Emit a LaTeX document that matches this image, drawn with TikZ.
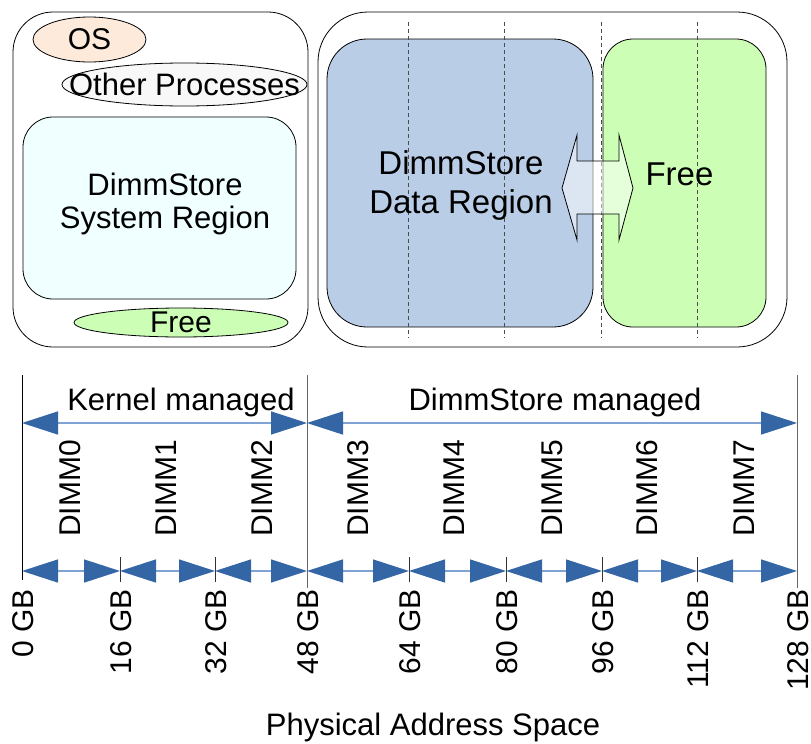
\documentclass[tikz,border=0pt]{standalone}
\usepackage{fontspec}
\setmainfont{Liberation Sans}
\usetikzlibrary{arrows.meta,shapes.geometric,positioning}
\definecolor{osfill}{HTML}{FDEADA}
\definecolor{procfill}{HTML}{F8F8F8}
\definecolor{sysfill}{HTML}{F0FFFF}
\definecolor{datafill}{HTML}{B9CEE6}
\definecolor{freefill}{HTML}{CCFFB5}
\definecolor{arrowblue}{HTML}{3465A4}
\definecolor{lineblue}{HTML}{7FA4D3}
\begin{document}
\begin{tikzpicture}[x=1pt, y=-1pt,
    txt/.style={inner sep=0pt, font=\fontsize{31}{33}\selectfont},
    small/.style={inner sep=0pt, font=\fontsize{30}{33}\selectfont},
    box/.style={draw, line width=0.8pt, rounded corners=40pt},
    region/.style={draw, line width=0.8pt, rectangle, rounded corners=30pt, inner sep=0pt},
    blob/.style={draw, line width=0.8pt, ellipse, inner sep=0pt},
    guide/.style={black!70, line width=0.8pt, dash pattern=on 4pt off 3pt},
    swap/.style={draw, line width=0.8pt, fill=white, fill opacity=0.5},
    span/.style={lineblue, line width=1.5pt, >={Triangle[length=36pt, width=23pt, color=arrowblue]}, <->},
    gb/.style={small, rotate=90, anchor=east},
    dimm/.style={small, rotate=90, anchor=west}]
  \useasboundingbox (0,0) rectangle (811,744);
  \draw[box] (13,12) rectangle (308,347);
  \draw[box, rounded corners=50pt] (318,12) rectangle (787,347);
  \node[blob, fill=osfill, minimum width=113pt, minimum height=45pt] (os) at (89.5,39.5) {};
  \node[small] (oslbl) at (os) {OS};
  \node[blob, fill=procfill, minimum width=245pt, minimum height=43pt] (procs) at (184.5,84.5) {};
  \node[txt] (procslbl) at (procs) {Other Processes};
  \node[region, fill=sysfill, minimum width=273pt, minimum height=182pt] (sysbox) at (159.5,208) {};
  \node[txt, align=center] (syslbl) at (165,203.5) {DimmStore\\System Region};
  \node[blob, fill=freefill, minimum width=214pt, minimum height=29pt] (kfree) at (181,322.5) {};
  \node[small] (kfreelbl) at (kfree) {Free};
  \node[region, rounded corners=40pt, fill=datafill, minimum width=266pt, minimum height=288pt] (databox) at (460,183) {};
  \node[region, fill=freefill, minimum width=163pt, minimum height=288pt] (dfree) at (684.5,183) {};
  \foreach \x in {408,504,601,697}
    \draw[guide] (\x,22) -- (\x,338);
  \draw[swap] (562,188) -- (577,135) -- (577,161) -- (619,161) -- (619,135) -- (633,188)
        -- (619,240) -- (619,214) -- (577,214) -- (577,240) -- cycle;
  \node[txt, font=\fontsize{33}{39}\selectfont, align=center] (datalbl) at (461,185.5) {DimmStore\\Data Region};
  \node[txt, font=\fontsize{33}{39}\selectfont] (freelbl) at (679.5,174) {Free};

  \draw (22,375) -- (22,580);
  \draw[black!60] (307,375) -- (307,588)
                  (797,375) -- (797,588);
  \coordinate (k0) at (22,423);
  \coordinate (k1) at (307,423);
  \coordinate (k2) at (797,423);
  \draw[span] (k0) -- (k1);
  \draw[span] (k1) -- (k2);
  \node[txt, anchor=base] (kern) at (181,410) {Kernel managed};
  \node[txt, anchor=base] (dsm) at (555,410) {DimmStore managed};
  \foreach \n/\x in {0/70,1/166,2/262,3/358,4/454,5/552,6/647,7/744}
    \node[dimm] (dimm\n) at (\x,537) {DIMM\n};
  \foreach \n/\x/\g in {0/22/0,1/120/16,2/215/32,3/307/48,4/409/64,5/506/80,6/602/96,7/697/112,8/797/128} {
    \coordinate (t\n) at (\x,571);
    \node[gb] (gb\n) at (\x+1,589) {\g\ GB};
  }
  \foreach \x in {120,215,409,506,602,697}
    \draw[black!80] (\x,557) -- (\x,582);
  \foreach \a/\b in {0/1,1/2,2/3,3/4,4/5,5/6,6/7,7/8}
    \draw[span] (t\a) -- (t\b);
  \node[txt, anchor=base] (pas) at (433,735) {Physical Address Space};
\end{tikzpicture}
\end{document}
